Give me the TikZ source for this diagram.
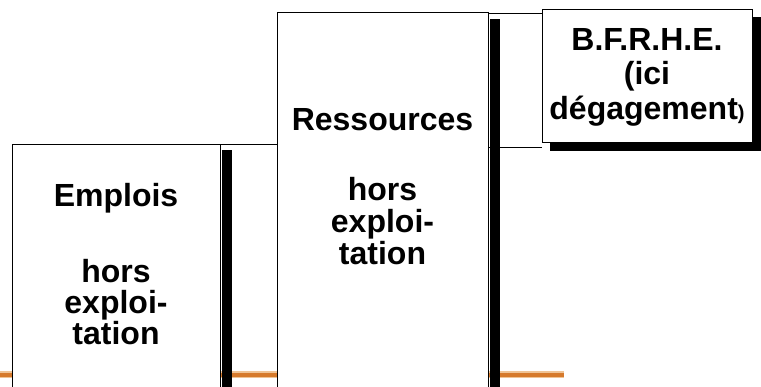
\documentclass[tikz,border=0pt]{standalone}
\usepackage{fontspec}
\setmainfont{Liberation Sans}
\usetikzlibrary{calc}
\definecolor{rule}{RGB}{214,122,44}
\definecolor{rulesoft}{RGB}{240,196,150}
\begin{document}
\begin{tikzpicture}[x=1pt,y=-1pt,
  box/.style={draw=black,line width=0.8pt,fill=white,rectangle,inner sep=0pt,anchor=north west},
  label/.style={align=center,inner sep=0pt,anchor=north,font=\bfseries\fontsize{32}{#1}\selectfont},
  label/.default=31,
  link/.style={draw=black,line width=0.8pt},
  shade/.style={fill=black}]
\useasboundingbox (0,0) rectangle (761,387);
\clip (0,0) rectangle (761,387);
% decorative orange rule at the foot of the page
\draw[rulesoft,line width=7pt] (0,375) -- (564,375);
\draw[rule,line width=4pt] (0,375) -- (564,375);

% boxes
\node[box,minimum width=208pt,minimum height=260pt] (emp) at (12,144) {};
\node[box,minimum width=211pt,minimum height=390pt] (res) at (277,12) {};
\node[box,minimum width=210pt,minimum height=133pt] (bfr) at (542,9) {};

% shadows
\fill[shade] ($(emp.north east)+(1,6)$) rectangle ($(emp.south east)+(11,0)$);
\fill[shade] ($(res.north east)+(1,7)$) rectangle ($(res.south east)+(11,0)$);
\fill[shade] ($(bfr.north east)+(0.4,8)$) rectangle ($(bfr.south east)+(8,8)$);
\fill[shade] ($(bfr.south west)+(8,0.4)$) rectangle ($(bfr.south east)+(8,8)$);

% connectors
\draw[link] (emp.north east) -- (emp.north east -| res.west);
\coordinate (rtop) at ($(bfr.north west)+(0,4)$);
\coordinate (rbot) at ($(bfr.south west)+(0,5)$);
\draw[link] (rtop -| res.east) -- (rtop);
\draw[link] (rbot -| res.east) -- (rbot);

% texts
\node[label=31] (tEmp) at (116,183) {Emplois\\[45pt]hors\\exploi-\\tation};
\node[label=32] (tRes) at (382.5,108) {Ressources\\[38pt]hors\\exploi-\\tation};
\node[label=34.5] (tBfr) at (647,28) {B.F.R.H.E.\\(ici\\dégagement{\fontsize{20}{20}\selectfont)}};
\end{tikzpicture}
\end{document}
